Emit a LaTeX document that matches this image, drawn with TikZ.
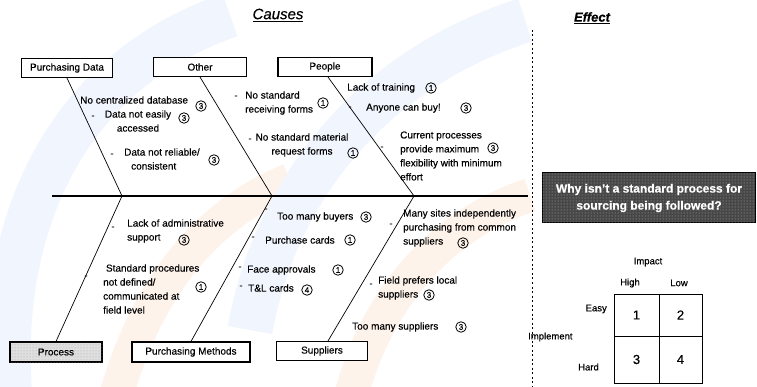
\documentclass[tikz,border=0pt]{standalone}
\usepackage{fontspec}
\setmainfont{Liberation Sans}[FakeBold=0.35]
\usetikzlibrary{patterns}

\definecolor{wmblue}{RGB}{241,245,253}
\definecolor{wmorange}{RGB}{254,243,235}

\tikzset{
  lbl/.style={font=\fontsize{10}{14}\selectfont, inner sep=0pt, align=left},
  lblc/.style={font=\fontsize{10}{14}\selectfont, inner sep=0pt, align=center},
  num/.style={circle, draw, line width=0.8pt, inner sep=0pt, minimum size=10.5pt,
              font=\fontsize{8}{8}\selectfont},
  tick/.style={font=\fontsize{9}{9}\selectfont, inner sep=0pt},
  catbox/.style={draw, line width=1.1pt, fill=white, minimum height=19pt,
                 font=\fontsize{10}{11}\selectfont, inner sep=0pt},
  bone/.style={line width=0.7pt},
  spine/.style={line width=1.6pt},
  cell/.style={draw, line width=0.8pt, inner sep=0pt, font=\fontsize{13}{13}\selectfont},
  small/.style={font=\fontsize{9.5}{10}\selectfont, inner sep=0pt},
}

\begin{document}
\begin{tikzpicture}[x=1pt,y=-1pt]
\useasboundingbox (0,0) rectangle (757,387);
\fill[white] (0,0) rectangle (757,387);

% faint background swooshes
\begin{scope}
\clip (0,0) rectangle (757,387);
\draw[wmblue, line width=45pt] (10,400) .. controls (-5,220) and (70,70) .. (230,15);
\draw[wmorange, line width=34pt] (115,400) .. controls (145,290) and (205,215) .. (290,180);
\draw[wmblue, line width=45pt] (250,330) .. controls (275,190) and (370,70) .. (525,20);
\draw[wmorange, line width=34pt] (350,400) .. controls (375,300) and (440,225) .. (530,195);
\end{scope}

% headings
\node[font=\fontsize{15}{15}\selectfont\itshape, inner sep=1pt] (causes) at (278,15) {\underline{Causes}};
\node[font=\fontsize{13}{13}\selectfont\bfseries\itshape, inner sep=1pt] (effect) at (592,18) {\underline{Effect}};

% separator between causes and effect
\coordinate (dl0) at (532,30);
\coordinate (dl1) at (532,387);
\draw[line width=0.6pt, dash pattern=on 2pt off 2.5pt] (dl0) -- (dl1);

% spine
\coordinate (sp0) at (52,196);
\coordinate (sp1) at (528,196);
\draw[spine] (sp0) -- (sp1);
\coordinate (j1) at (122,196);
\coordinate (j2) at (272,196);
\coordinate (j3) at (414,196);

% category boxes
\node[catbox, minimum width=91pt] (pdata) at (67,68) {Purchasing Data};
\node[catbox, minimum width=93pt] (other) at (200,67) {Other};
\node[catbox, minimum width=94pt] (people) at (325,67) {People};
\node[catbox, minimum width=92pt, minimum height=20pt, fill=gray!25,
      postaction={pattern=dots, pattern color=gray!70}] (process) at (56,352) {Process};
\node[catbox, minimum width=118pt, minimum height=20pt] (pmeth) at (191,352) {Purchasing Methods};
\node[catbox, minimum width=91pt] (supp) at (322,351) {Suppliers};

% bones
\draw[bone] (pdata.south) -- (j1);
\draw[bone] (other.south) -- (j2);
\draw[bone] ([xshift=3pt]people.south) -- (j3);
\draw[bone] (j1) -- (process.north);
\draw[bone] (j2) -- (pmeth.north);
\draw[bone] (j3) -- ([xshift=6pt]supp.north);

% Purchasing Data causes
\node[lbl, anchor=west] (t1) at (80,100) {No centralized database};
\node[num] (n1) at (201,106) {3};
\node[tick] (k2) at (93,117) {-};
\node[lblc] (t2) at (138,121) {Data not easily\\accessed};
\node[num] (n2) at (184,118) {3};
\node[tick] (k3) at (112,155) {-};
\node[lbl, anchor=west] (t3) at (124,159) {Data not reliable/\\\hspace{7pt}consistent};
\node[num] (n3) at (214,160) {3};

% Other causes
\node[tick] (k4) at (236,97) {-};
\node[lbl, anchor=west] (t4) at (245,103) {No standard\\receiving forms};
\node[num] (n4) at (323,103) {1};
\node[tick] (k5) at (250,140) {-};
\node[lblc] (t5) at (302,145) {No standard material\\request forms};
\node[num] (n5) at (353,153) {1};

% People causes
\node[lbl, anchor=west] (t6) at (347,88) {Lack of training};
\node[num] (n6) at (431,88) {1};
\node[tick] (k7) at (350,108) {-};
\node[lbl, anchor=west] (t7) at (366,108) {Anyone can buy!};
\node[num] (n7) at (466,108) {3};
\node[tick] (k8) at (382,148) {-};
\node[lbl, anchor=west] (t8) at (400,156) {Current processes\\provide maximum\\flexibility with minimum\\effort};
\node[num] (n8) at (493,148) {3};

% Process causes
\node[tick] (k9) at (113,228) {-};
\node[lbl, anchor=west] (b1) at (127,231) {Lack of administrative\\support};
\node[num] (m1) at (184,240) {3};
\node[tick] (k10) at (86,277) {-};
\node[lbl, anchor=west] (b2) at (103,289) {\ Standard procedures\\not defined/\\communicated at\\field level};
\node[num] (m2) at (201,287) {1};

% Purchasing Methods causes
\node[tick] (k11) at (266,210) {-};
\node[lbl, anchor=west] (b3) at (277,217) {Too many buyers};
\node[num] (m3) at (366,217) {3};
\node[tick] (k12) at (253,238) {-};
\node[lbl, anchor=west] (b4) at (265,240) {Purchase cards};
\node[num] (m4) at (350,240) {1};
\node[tick] (k13) at (240,268) {-};
\node[lbl, anchor=west] (b5) at (247,270) {Face approvals};
\node[num] (m5) at (338,270) {1};
\node[tick] (k14) at (241,287) {-};
\node[lbl, anchor=west] (b6) at (248,288) {T\&L cards};
\node[num] (m6) at (307,290) {4};

% Supplier causes
\node[tick] (k15) at (391,225) {-};
\node[lbl, anchor=west] (b7) at (403,228) {Many sites independently\\purchasing from common\\suppliers};
\node[num] (m7) at (463,243) {3};
\node[tick] (k16) at (371,285) {-};
\node[lbl, anchor=west] (b8) at (378,288) {Field prefers local\\suppliers};
\node[num] (m8) at (429,295) {3};
\node[lbl, anchor=west] (b9) at (352,327) {Too many suppliers};
\node[num] (m9) at (461,327) {3};

% effect statement
\node[draw, line width=1pt, fill=black!72, minimum width=213pt, minimum height=50pt,
      postaction={pattern=dots, pattern color=gray!60},
      text=white, align=center, inner sep=0pt,
      font=\fontsize{12}{17}\selectfont\bfseries] (eff) at (649,198)
      {Why isn't a standard process for\\sourcing being followed?};

% impact / implementation matrix
\node[small] (impact) at (648,262) {Impact};
\node[small] (high) at (630,283) {High};
\node[small] (low) at (679,283) {Low};
\node[cell, minimum width=45pt, minimum height=42pt] (c1) at (636.5,315) {1};
\node[cell, minimum width=43pt, minimum height=42pt] (c2) at (680.5,315) {2};
\node[cell, minimum width=45pt, minimum height=47pt] (c3) at (636.5,359.5) {3};
\node[cell, minimum width=43pt, minimum height=47pt] (c4) at (680.5,359.5) {4};
\node[small, anchor=east] (easy) at (607,309) {Easy};
\node[small, anchor=east] (hard) at (599,367) {Hard};
\node[small, anchor=west] (impl) at (528,337) {Implement};
\end{tikzpicture}
\end{document}
